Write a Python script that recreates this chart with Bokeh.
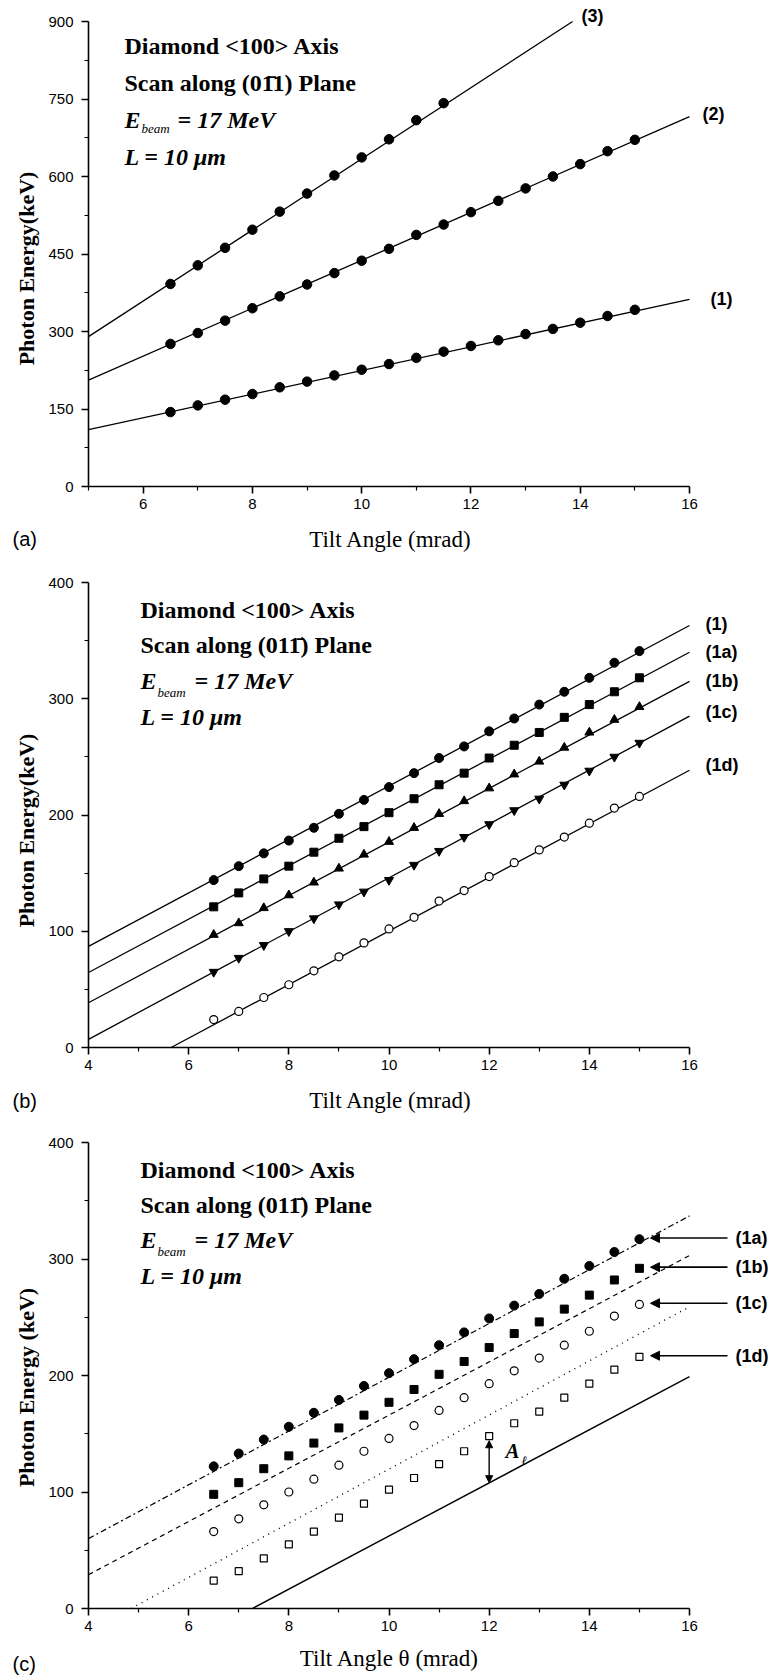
import math
from bokeh.plotting import figure
from bokeh.layouts import column
from bokeh.models import Range1d, FixedTicker, Label, Arrow, NormalHead
from bokeh.embed import file_html
from bokeh.resources import INLINE

# ---------------- data ----------------
# panel (a)
a_x = [6.5, 7.0, 7.5, 8.0, 8.5, 9.0, 9.5, 10.0, 10.5, 11.0, 11.5, 12.0, 12.5, 13.0, 13.5, 14.0, 14.5, 15.0]
a1_y = [144, 157, 168, 179, 192, 203, 215, 226, 237, 249, 261, 272, 283, 295, 305, 317, 330, 342]
a2_y = [276, 297, 321, 345, 368, 391, 413, 437, 460, 487, 507, 531, 553, 577, 600, 624, 649, 671]
a3_x = [6.5, 7.0, 7.5, 8.0, 8.5, 9.0, 9.5, 10.0, 10.5, 11.0, 11.5]
a3_y = [392, 428, 462, 497, 532, 567, 602, 637, 672, 709, 742]
a1_line_x, a1_line_y = [5, 16], [110, 362]
a2_line_x, a2_line_y = [5, 16], [206, 716]
a3_line_x, a3_line_y = [5, 13.86], [290, 900]
a_xticks, a_xminor = [6, 8, 10, 12, 14, 16], [5, 7, 9, 11, 13, 15]
a_yticks, a_yminor = [0, 150, 300, 450, 600, 750, 900], [75, 225, 375, 525, 675, 825]

# panel (b)
b_x = a_x
b1_y = [144, 156, 167, 178, 189, 201, 213, 224, 236, 249, 259, 272, 283, 295, 306, 318, 331, 341]
b1a_y = [121, 133, 145, 156, 168, 180, 190, 202, 214, 226, 236, 249, 260, 271, 284, 295, 306, 318]
b1b_y = [97, 107, 120, 131, 142, 154, 166, 177, 189, 201, 212, 223, 235, 246, 258, 271, 282, 293]
b1c_y = [65, 77, 88, 100, 111, 123, 134, 144, 157, 169, 181, 192, 204, 214, 226, 238, 250, 262]
b1d_y = [24, 31, 43, 54, 66, 78, 90, 102, 112, 126, 135, 147, 159, 170, 181, 193, 206, 216]
b1_line_x, b1_line_y = [4, 16], [87, 363]
b1a_line_x, b1a_line_y = [4, 16], [64.5, 340]
b1b_line_x, b1b_line_y = [4, 16], [38.5, 315]
b1c_line_x, b1c_line_y = [4, 16], [7, 285]
b1d_line_x, b1d_line_y = [5.65, 16], [0, 238.5]
bc_xticks, bc_xminor = [4, 6, 8, 10, 12, 14, 16], [5, 7, 9, 11, 13, 15]
bc_yticks, bc_yminor = [0, 100, 200, 300, 400], [50, 150, 250, 350]

# panel (c)
c_x = a_x
c1a_y = [122, 133, 145, 156, 168, 179, 191, 202, 214, 226, 237, 249, 260, 270, 283, 294, 306, 317]
c1b_y = [98, 108, 120, 131, 142, 155, 166, 177, 188, 201, 212, 224, 236, 246, 257, 269, 282, 292]
c1c_y = [66, 77, 89, 100, 111, 123, 135, 146, 157, 170, 181, 193, 204, 215, 226, 238, 251, 261]
c1d_y = [24, 32, 43, 55, 66, 78, 90, 102, 112, 124, 135, 148, 159, 169, 181, 193, 205, 216]
c_dashdot_x, c_dashdot_y = [4, 16], [60, 337]
c_dash_x, c_dash_y = [4, 16], [29, 303]
c_dot_x, c_dot_y = [4.85, 16], [0, 259]
c_solid_x, c_solid_y = [7.27, 16], [0, 199]
c_al_x, c_al_y0, c_al_y1 = 12, 108, 144

SERIF = "Liberation Serif"
SANS = "Liberation Sans"

W = 773
LEFT = 88        # pixel column of the y axis
RIGHT_PX = 689   # pixel column of the last x tick (16)


class Panel:
    """Maps page pixels to data coordinates for one stacked figure."""

    def __init__(self, top, height, x0, x1, y_zero_px, y_top_px, y_top_val):
        self.top, self.height = top, height
        self.x0 = x0
        self.sx = (RIGHT_PX - LEFT) / (x1 - x0)
        self.y0px = y_zero_px
        self.sy = (y_zero_px - y_top_px) / y_top_val

    def fx(self, px):
        return self.x0 + (px - LEFT) / self.sx

    def fy(self, py):
        return (self.y0px - py) / self.sy


def make_fig(g, xbounds, ybounds, xt, xmt, yt, ymt):
    p = figure(width=W, height=g.height,
               x_range=Range1d(g.fx(0), g.fx(W)),
               y_range=Range1d(g.fy(g.top + g.height), g.fy(g.top)),
               output_backend="svg", toolbar_location=None,
               min_border=0, min_border_left=0, min_border_right=0,
               min_border_top=0, min_border_bottom=0)
    p.xgrid.visible = False
    p.ygrid.visible = False
    p.outline_line_color = None
    p.background_fill_color = "white"
    p.border_fill_color = "white"
    p.xaxis.ticker = FixedTicker(ticks=xt, minor_ticks=xmt)
    p.yaxis.ticker = FixedTicker(ticks=yt, minor_ticks=ymt)
    p.xaxis.fixed_location = ybounds[0]
    p.yaxis.fixed_location = xbounds[0]
    p.xaxis.bounds = xbounds
    p.yaxis.bounds = ybounds
    for ax in (p.xaxis[0], p.yaxis[0]):
        ax.axis_line_width = 1.6
        ax.axis_line_color = "black"
        ax.major_tick_line_width = 1.6
        ax.minor_tick_line_width = 1.2
        ax.major_tick_line_color = "black"
        ax.minor_tick_line_color = "black"
        ax.major_tick_out = 7
        ax.major_tick_in = 0
        ax.minor_tick_out = 4
        ax.minor_tick_in = 0
        ax.major_label_text_font = SANS
        ax.major_label_text_font_size = "15px"
        ax.major_label_text_color = "black"
    p.xaxis.major_label_standoff = 5
    p.yaxis.major_label_standoff = 8
    return p


def lab(p, x, y, text, size, font=SERIF, style="bold", align="left", baseline="alphabetic", angle=0.0):
    p.add_layout(Label(x=x, y=y, text=text, text_font=font, text_font_size=f"{size}px",
                       text_font_style=style, text_align=align, text_baseline=baseline,
                       text_color="black", angle=angle))


def titles(p, g, xlabel, xl_pos, ylabel, yl_pos, tag, tag_pos):
    lab(p, g.fx(xl_pos[0]), g.fy(xl_pos[1]), xlabel, 23, style="normal",
        align="center", baseline="middle")
    lab(p, g.fx(yl_pos[0]), g.fy(yl_pos[1]), ylabel, 22, style="bold",
        align="center", baseline="middle", angle=math.pi / 2)
    lab(p, g.fx(tag_pos[0]), g.fy(tag_pos[1]), tag, 20, font=SANS, style="normal",
        baseline="middle")


def info_block(p, g, x0, b1, b2, b3, b4, plane, bx_, bb, eqx):
    lab(p, g.fx(x0), g.fy(b1), "Diamond <100> Axis", 24)
    lab(p, g.fx(x0), g.fy(b2), "Scan along " + plane + " Plane", 24)
    lab(p, g.fx(x0), g.fy(b3), "E", 24, style="bold italic")
    lab(p, g.fx(bx_), g.fy(bb), "beam", 13, style="italic")
    lab(p, g.fx(eqx), g.fy(b3), "= 17 MeV", 24, style="bold italic")
    lab(p, g.fx(x0), g.fy(b4), "L = 10 \u03bcm", 24, style="bold italic")


# ---------------- panel (a) ----------------
ga = Panel(top=0, height=562, x0=5, x1=16, y_zero_px=486, y_top_px=21, y_top_val=900)
pa = make_fig(ga, (5, 16), (0, 900), a_xticks, a_xminor, a_yticks, a_yminor)

for lx, ly in ((a1_line_x, a1_line_y), (a2_line_x, a2_line_y), (a3_line_x, a3_line_y)):
    pa.line(lx, ly, line_color="black", line_width=1.3)
for xs, ys in ((a_x, a1_y), (a_x, a2_y), (a3_x, a3_y)):
    pa.scatter(xs, ys, marker="circle", size=9.5, fill_color="black", line_color="black")

info_block(pa, ga, 124, 45, 82, 119, 156, "(01\u03041)", 141, 128, 177)
lab(pa, ga.fx(581), ga.fy(15), "(3)", 18, font=SANS, baseline="middle")
lab(pa, ga.fx(702), ga.fy(113), "(2)", 18, font=SANS, baseline="middle")
lab(pa, ga.fx(710), ga.fy(298), "(1)", 18, font=SANS, baseline="middle")
titles(pa, ga, "Tilt Angle (mrad)", (390, 539), "Photon Energy(keV)", (26, 268), "(a)", (12, 538))

# ---------------- panel (b) ----------------
gb = Panel(top=562, height=560, x0=4, x1=16, y_zero_px=1047, y_top_px=582, y_top_val=400)
pb = make_fig(gb, (4, 16), (0, 400), bc_xticks, bc_xminor, bc_yticks, bc_yminor)

for lx, ly in ((b1_line_x, b1_line_y), (b1a_line_x, b1a_line_y), (b1b_line_x, b1b_line_y),
               (b1c_line_x, b1c_line_y), (b1d_line_x, b1d_line_y)):
    pb.line(lx, ly, line_color="black", line_width=1.3)
pb.scatter(b_x, b1_y, marker="circle", size=9, fill_color="black", line_color="black")
pb.scatter(b_x, b1a_y, marker="square", size=8, fill_color="black", line_color="black")
pb.scatter(b_x, b1b_y, marker="triangle", size=9, fill_color="black", line_color="black")
pb.scatter(b_x, b1c_y, marker="inverted_triangle", size=9, fill_color="black", line_color="black")
pb.scatter(b_x, b1d_y, marker="circle", size=8, fill_color="white", line_color="black", line_width=1.2)

info_block(pb, gb, 140, 609, 644, 680, 716, "(011\u0304)", 157, 692, 194)
for txt, py in (("(1)", 623), ("(1a)", 651), ("(1b)", 680), ("(1c)", 711), ("(1d)", 764)):
    lab(pb, gb.fx(705), gb.fy(py), txt, 18, font=SANS, baseline="middle")
titles(pb, gb, "Tilt Angle (mrad)", (390, 1100), "Photon Energy(keV)", (26, 830), "(b)", (12, 1100))

# ---------------- panel (c) ----------------
gc = Panel(top=1122, height=554, x0=4, x1=16, y_zero_px=1608, y_top_px=1142, y_top_val=400)
pc = make_fig(gc, (4, 16), (0, 400), bc_xticks, bc_xminor, bc_yticks, bc_yminor)

pc.line(c_dashdot_x, c_dashdot_y, line_color="black", line_width=1.2, line_dash="6 3 2 3")
pc.line(c_dash_x, c_dash_y, line_color="black", line_width=1.2, line_dash="5 4")
pc.line(c_dot_x, c_dot_y, line_color="black", line_width=1.4, line_dash="1 5")
pc.line(c_solid_x, c_solid_y, line_color="black", line_width=1.4)
pc.scatter(c_x, c1a_y, marker="circle", size=9, fill_color="black", line_color="black")
pc.scatter(c_x, c1b_y, marker="square", size=8, fill_color="black", line_color="black")
pc.scatter(c_x, c1c_y, marker="circle", size=8, fill_color="white", line_color="black", line_width=1.2)
pc.scatter(c_x, c1d_y, marker="square", size=7, fill_color="white", line_color="black", line_width=1.2)

info_block(pc, gc, 140, 1169, 1204, 1239, 1275, "(011\u0304)", 157, 1251, 194)

for txt, ys in (("(1a)", c1a_y), ("(1b)", c1b_y), ("(1c)", c1c_y), ("(1d)", c1d_y)):
    yv = ys[-1] + 1
    pc.add_layout(Arrow(x_start=gc.fx(727), y_start=yv, x_end=gc.fx(650), y_end=yv,
                        line_color="black", line_width=1.6,
                        end=NormalHead(size=9, fill_color="black", line_color="black")))
    lab(pc, gc.fx(735), yv, txt, 18, font=SANS, baseline="middle")

pc.add_layout(Arrow(x_start=c_al_x, y_start=c_al_y0, x_end=c_al_x, y_end=c_al_y1,
                    line_color="black", line_width=1.4,
                    start=NormalHead(size=7, fill_color="black", line_color="black"),
                    end=NormalHead(size=7, fill_color="black", line_color="black")))
lab(pc, gc.fx(505), gc.fy(1450), "A", 21, style="bold italic")
lab(pc, gc.fx(521), gc.fy(1460), "\u2113", 13, style="italic")
titles(pc, gc, "Tilt Angle \u03b8 (mrad)", (389, 1658), "Photon Energy (keV)", (26, 1387), "(c)", (12, 1663))

layout = column(pa, pb, pc, spacing=0)
open("out.html", "w").write(file_html(layout, INLINE))
